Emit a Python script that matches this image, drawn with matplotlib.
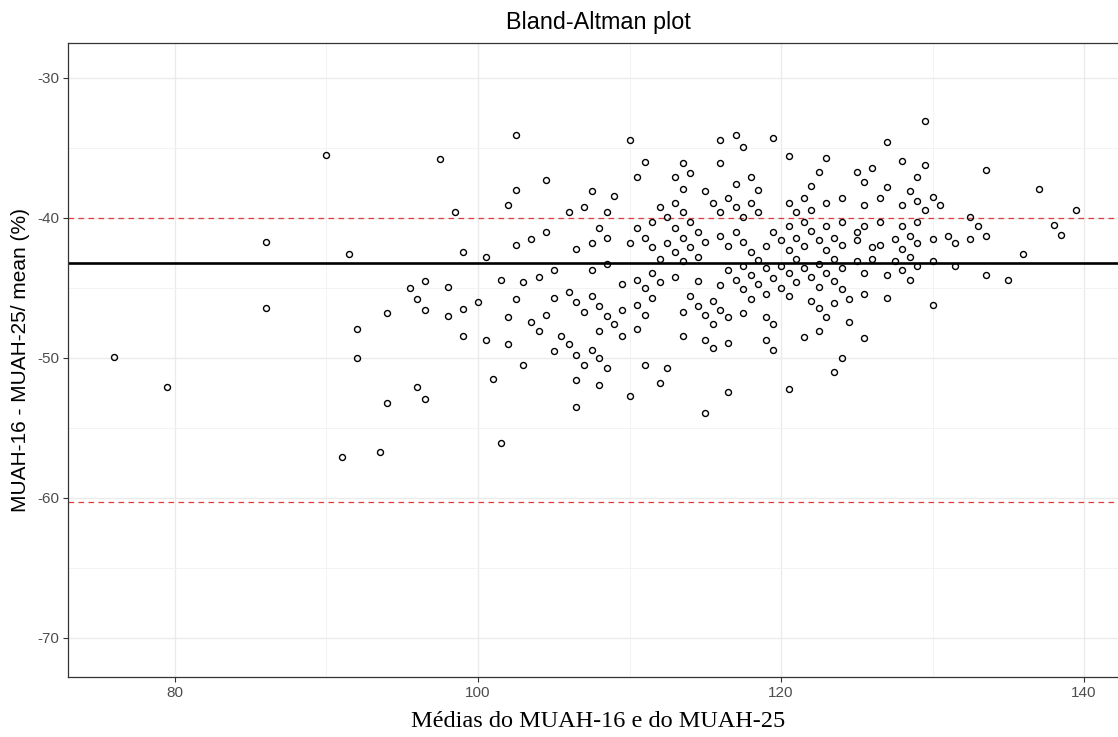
import matplotlib
matplotlib.use("Agg")
import matplotlib.pyplot as plt
from matplotlib.ticker import MultipleLocator

# Mean of the two questionnaires (x) and relative difference in % (y)
medias = [
    76.0, 79.5, 86.0, 86.0, 90.0, 91.5, 91.0, 92.0, 92.0, 93.5,
    94.0, 94.0, 95.5, 96.0, 96.0, 96.5, 96.5, 96.5, 97.5, 98.0,
    98.0, 98.5, 99.0, 99.0, 99.0, 100.0, 100.5, 100.5, 101.0, 101.5,
    101.5, 102.0, 102.0, 102.0, 102.5, 110.0, 111.0, 113.5, 110.5, 113.0,
    114.0, 104.5, 102.5, 107.5, 109.0, 113.5, 107.0, 106.0, 108.5, 112.0,
    113.0, 112.5, 113.5, 111.5, 108.0, 110.5, 113.0, 114.0, 104.5, 102.5,
    103.5, 106.5, 107.5, 108.5, 110.0, 111.0, 111.5, 112.5, 113.5, 113.0,
    114.0, 112.0, 108.5, 113.5, 105.0, 107.5, 104.0, 103.0, 109.5, 110.5,
    111.5, 112.0, 113.0, 111.0, 102.5, 105.0, 106.0, 107.5, 106.5, 108.0,
    111.5, 114.0, 104.5, 107.0, 108.5, 109.5, 110.5, 111.0, 113.5, 103.5,
    104.0, 105.5, 108.0, 109.0, 109.5, 110.5, 113.5, 105.0, 106.0, 107.5,
    106.5, 108.0, 103.0, 107.0, 108.5, 111.0, 112.5, 106.5, 108.0, 112.0,
    110.0, 106.5, 116.0, 117.0, 117.5, 119.5, 120.5, 123.0, 116.0, 122.5,
    125.0, 126.0, 125.5, 117.0, 118.0, 118.5, 122.0, 115.0, 116.5, 115.5,
    117.0, 118.0, 120.5, 121.5, 122.0, 123.0, 124.0, 125.5, 116.0, 117.5,
    118.5, 121.0, 120.5, 121.5, 123.0, 124.0, 125.5, 114.5, 116.0, 117.0,
    119.5, 122.0, 125.0, 115.0, 116.5, 117.5, 118.0, 119.0, 120.0, 120.5,
    121.0, 121.5, 122.5, 123.0, 123.5, 124.0, 125.0, 126.0, 114.5, 118.5,
    121.0, 122.5, 123.5, 125.0, 126.0, 117.5, 120.0, 116.5, 119.0, 121.5,
    124.0, 125.5, 118.0, 120.5, 123.0, 117.0, 119.5, 122.0, 114.5, 116.0,
    118.5, 121.0, 123.5, 117.5, 120.0, 122.5, 124.0, 115.5, 118.0, 119.0,
    120.5, 122.0, 124.5, 125.5, 114.5, 116.0, 122.5, 123.5, 115.0, 116.5,
    117.5, 119.0, 123.0, 115.5, 119.5, 124.5, 122.5, 121.5, 125.5, 115.0,
    116.5, 119.0, 115.5, 119.5, 124.0, 123.5, 116.5, 120.5, 115.0, 129.5,
    127.0, 128.0, 129.5, 133.5, 129.0, 127.0, 128.5, 137.0, 126.5, 128.0,
    129.0, 130.0, 130.5, 129.5, 132.5, 126.5, 128.0, 129.0, 133.0, 138.0,
    126.5, 127.5, 128.5, 129.0, 130.0, 131.0, 131.5, 132.5, 133.5, 138.5,
    128.0, 128.5, 127.5, 130.0, 129.0, 131.5, 136.0, 128.0, 127.0, 128.5,
    133.5, 135.0, 127.0, 130.0, 139.5,
]
diferencas = [
    -49.9, -52.1, -41.7, -46.4, -35.5, -42.6, -57.1, -47.9, -50.0, -56.7,
    -53.2, -46.8, -45.0, -45.8, -52.1, -44.5, -46.6, -52.9, -35.8, -44.9,
    -47.0, -39.6, -42.4, -46.5, -48.4, -46.0, -42.8, -48.7, -51.5, -56.1,
    -44.4, -39.1, -47.1, -49.0, -34.1, -34.4, -36.0, -36.1, -37.1, -37.1,
    -36.8, -37.3, -38.0, -38.1, -38.4, -37.9, -39.2, -39.6, -39.6, -39.2,
    -38.9, -39.9, -39.6, -40.3, -40.7, -40.7, -40.7, -40.3, -41.0, -41.9,
    -41.5, -42.2, -41.8, -41.4, -41.8, -41.4, -42.1, -41.8, -41.4, -42.4,
    -42.1, -42.9, -43.3, -43.1, -43.7, -43.7, -44.2, -44.6, -44.7, -44.4,
    -43.9, -44.6, -44.2, -45.0, -45.8, -45.7, -45.3, -45.6, -46.0, -46.3,
    -45.7, -45.6, -46.9, -46.7, -47.0, -46.6, -46.2, -46.9, -46.7, -47.4,
    -48.1, -48.4, -48.1, -47.6, -48.4, -47.9, -48.4, -49.5, -49.0, -49.4,
    -49.8, -50.0, -50.5, -50.5, -50.7, -50.5, -50.7, -51.6, -51.9, -51.8,
    -52.7, -53.5, -34.4, -34.1, -34.9, -34.3, -35.6, -35.7, -36.1, -36.7,
    -36.7, -36.4, -37.4, -37.6, -37.1, -38.0, -37.7, -38.1, -38.6, -38.9,
    -39.2, -38.9, -38.9, -38.6, -39.4, -38.9, -38.6, -39.1, -39.6, -39.9,
    -39.6, -39.6, -40.6, -40.3, -40.6, -40.3, -40.6, -41.0, -41.3, -41.0,
    -41.0, -40.9, -41.0, -41.7, -42.0, -41.7, -42.4, -42.0, -41.6, -42.3,
    -41.4, -42.0, -41.6, -42.3, -41.4, -41.9, -41.6, -42.1, -42.8, -43.0,
    -42.9, -43.3, -42.9, -43.1, -42.9, -43.4, -43.4, -43.7, -43.6, -43.6,
    -43.6, -43.9, -44.1, -43.9, -43.9, -44.4, -44.3, -44.2, -44.5, -44.8,
    -44.7, -44.6, -44.5, -45.1, -45.0, -44.9, -45.1, -45.9, -45.8, -45.4,
    -45.6, -45.9, -45.8, -45.4, -46.3, -46.6, -46.4, -46.1, -46.9, -47.1,
    -46.8, -47.1, -47.1, -47.6, -47.6, -47.4, -48.1, -48.5, -48.6, -48.7,
    -48.9, -48.7, -49.3, -49.4, -50.0, -51.0, -52.4, -52.2, -53.9, -33.1,
    -34.6, -35.9, -36.2, -36.6, -37.1, -37.8, -38.1, -37.9, -38.6, -39.1,
    -38.8, -38.5, -39.1, -39.4, -39.9, -40.3, -40.6, -40.3, -40.6, -40.5,
    -41.9, -41.5, -41.3, -41.8, -41.5, -41.3, -41.8, -41.5, -41.3, -41.2,
    -42.2, -42.8, -43.1, -43.1, -43.4, -43.4, -42.6, -43.7, -44.1, -44.4,
    -44.1, -44.4, -45.7, -46.2, -39.4,
]

# Bias and limits of agreement
vies = -43.2
limite_superior = -40.0
limite_inferior = -60.3

xticks = [80, 100, 120, 140]
yticks = [-30, -40, -50, -60, -70]

fig = plt.figure(figsize=(11.18, 7.37), dpi=100)
ax = fig.add_axes([68 / 1118, 1 - 677 / 737, (1128 - 68) / 1118, (677 - 43) / 737])

ax.set_xlim(72.94, 142.9)
ax.set_ylim(-72.79, -27.5)

# theme_bw-like grid
ax.set_facecolor("white")
ax.xaxis.set_major_locator(MultipleLocator(20))
ax.xaxis.set_minor_locator(MultipleLocator(10))
ax.yaxis.set_major_locator(MultipleLocator(10))
ax.yaxis.set_minor_locator(MultipleLocator(5))
ax.grid(which="major", color="#EBEBEB", linewidth=1.0)
ax.grid(which="minor", color="#F3F3F3", linewidth=0.7)
ax.set_axisbelow(True)
ax.tick_params(which="minor", length=0)
ax.tick_params(which="major", length=3.5, width=0.8, color="#333333",
               labelsize=11, labelcolor="#4D4D4D", pad=3)
ax.set_xticks(xticks)
ax.set_yticks(yticks)
ax.set_yticklabels([str(v) for v in yticks])
for lab in ax.get_xticklabels() + ax.get_yticklabels():
    lab.set_fontfamily("Liberation Sans")
for sp in ax.spines.values():
    sp.set_color("#333333")
    sp.set_linewidth(0.9)

ax.axhline(vies, color="black", linewidth=1.9, zorder=2)
ax.axhline(limite_superior, color="#E03C3C", linewidth=0.9,
           linestyle=(0, (4.5, 3.5)), zorder=2)
ax.axhline(limite_inferior, color="#E03C3C", linewidth=0.9,
           linestyle=(0, (4.5, 3.5)), zorder=2)

ax.plot(medias, diferencas, linestyle="none", marker="o", markersize=4.3,
        markerfacecolor="none", markeredgecolor="black", markeredgewidth=1.0,
        zorder=3)

ax.set_title("Bland-Altman plot", fontfamily="Liberation Sans", fontsize=16.8,
             pad=10)
ax.set_xlabel("Médias do MUAH-16 e do MUAH-25", fontfamily="Liberation Serif",
              fontsize=17.5, labelpad=8)
ax.set_ylabel("MUAH-16 - MUAH-25/ mean (%)", fontfamily="Liberation Sans",
              fontsize=15, labelpad=5)

fig.savefig("out.png", dpi=100)
